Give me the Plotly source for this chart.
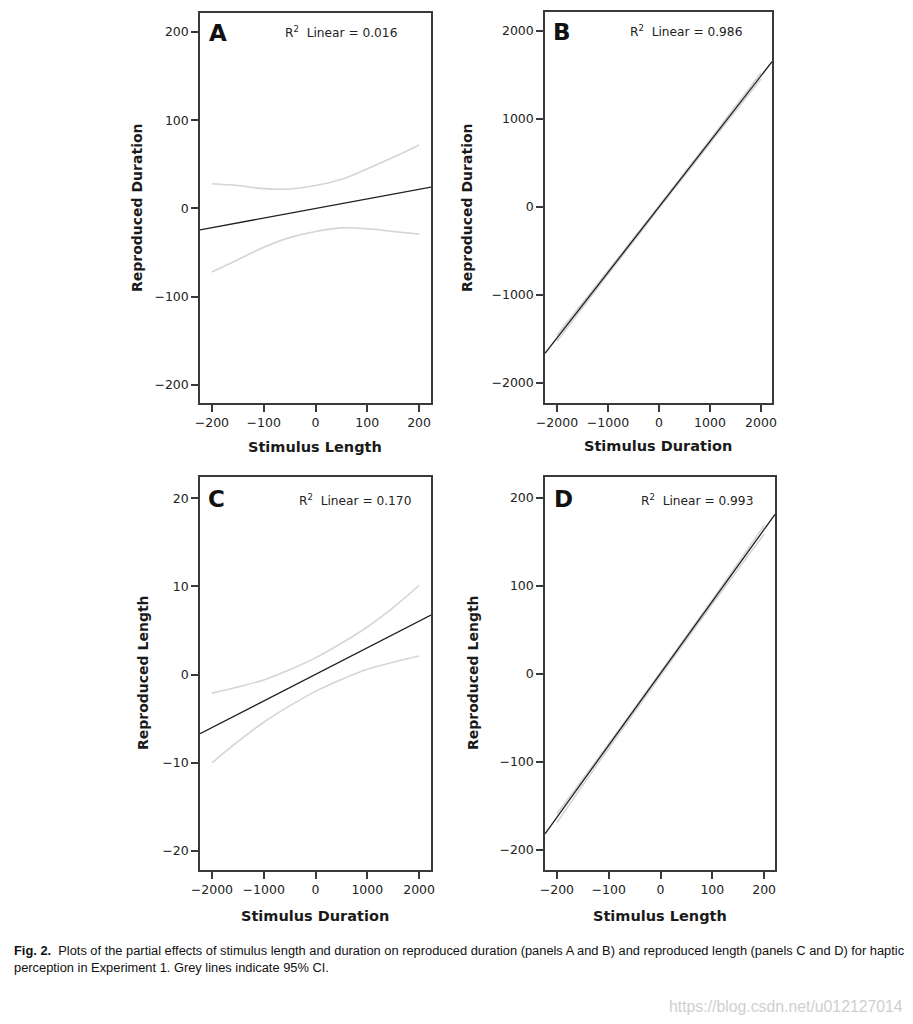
import plotly.graph_objects as go

# ---------------- data ----------------
# Panel A: Reproduced Duration vs Stimulus Length
fit_x_A = [-223, 223]
fit_y_A = [-24.2, 24.2]
ci_x_A = [-200, -150, -100, -50, 0, 50, 100, 150, 200]
ci_up_A = [28, 26, 22.5, 22, 26, 33, 45, 58, 72]
ci_lo_A = [-72, -58, -44, -33, -26, -22, -23, -26, -29]

# Panel B: Reproduced Duration vs Stimulus Duration
fit_x_B = [-2235, 2215]
fit_y_B = [-1663, 1651]
ci_x_B = [-2000, -1000, 0, 1000, 2000]
ci_up_B = [-1455, -725, 15, 765, 1525]
ci_lo_B = [-1525, -765, -15, 725, 1455]

# Panel C: Reproduced Length vs Stimulus Duration
fit_x_C = [-2230, 2230]
fit_y_C = [-6.7, 6.76]
ci_x_C = [-2000, -1500, -1000, -500, 0, 500, 1000, 1500, 2000]
ci_up_C = [-2.1, -1.4, -0.6, 0.55, 1.9, 3.55, 5.4, 7.6, 10.1]
ci_lo_C = [-10.0, -7.6, -5.4, -3.55, -1.9, -0.55, 0.6, 1.4, 2.1]

# Panel D: Reproduced Length vs Stimulus Length
fit_x_D = [-223, 221]
fit_y_D = [-181.8, 181.5]
ci_x_D = [-200, -100, 0, 100, 200]
ci_up_D = [-159, -79.5, 2, 84.5, 169]
ci_lo_D = [-169, -84.5, -2, 79.5, 159]

panel_letters = ["A", "B", "C", "D"]
r2_labels = ["0.016", "0.986", "0.170", "0.993"]
x_titles = ["Stimulus Length", "Stimulus Duration", "Stimulus Duration", "Stimulus Length"]
y_titles = ["Reproduced Duration", "Reproduced Duration", "Reproduced Length", "Reproduced Length"]

ticks_small = [-200, -100, 0, 100, 200]
ticks_large = [-2000, -1000, 0, 1000, 2000]
ticks_tiny = [-20, -10, 0, 10, 20]

caption_line1 = ("<b>Fig. 2.</b>  Plots of the partial effects of stimulus length and duration on reproduced "
                 "duration (panels A and B) and reproduced length (panels C and D) for haptic")
caption_line2 = "perception in Experiment 1. Grey lines indicate 95% CI."
watermark = "https://blog.csdn.net/u012127014"

# ---------------- layout geometry ----------------
W, H = 913, 1024


def px_x(v):
    return v / W


def px_y(v):
    return 1 - v / H


panels = [
    dict(fx=fit_x_A, fy=fit_y_A, cx=ci_x_A, cu=ci_up_A, cl=ci_lo_A,
         dom_x=(200, 431), dom_y=(13, 403), xr=[-223, 223], yr=[-220.4, 221.5],
         xt=ticks_small, yt=ticks_small,
         letter_x=207, letter_y=33, r2_x=341, r2_y=32,
         xt_x=315, xt_y=447, yt_x=137, yt_y=208),
    dict(fx=fit_x_B, fy=fit_y_B, cx=ci_x_B, cu=ci_up_B, cl=ci_lo_B,
         dom_x=(545, 772), dom_y=(12, 403), xr=[-2235, 2215], yr=[-2227, 2216],
         xt=ticks_large, yt=ticks_large,
         letter_x=551, letter_y=32, r2_x=686, r2_y=31,
         xt_x=658, xt_y=446, yt_x=467, yt_y=208),
    dict(fx=fit_x_C, fy=fit_y_C, cx=ci_x_C, cu=ci_up_C, cl=ci_lo_C,
         dom_x=(200, 431), dom_y=(477, 870), xr=[-2230, 2230], yr=[-22.15, 22.4],
         xt=ticks_large, yt=ticks_tiny,
         letter_x=206, letter_y=499, r2_x=355, r2_y=500,
         xt_x=315, xt_y=916, yt_x=143, yt_y=673),
    dict(fx=fit_x_D, fy=fit_y_D, cx=ci_x_D, cu=ci_up_D, cl=ci_lo_D,
         dom_x=(545, 775), dom_y=(477, 870), xr=[-223, 221], yr=[-223, 224],
         xt=ticks_small, yt=ticks_small,
         letter_x=552, letter_y=499, r2_x=697, r2_y=500,
         xt_x=660, xt_y=916, yt_x=473, yt_y=673),
]

AX_COLOR = "#3a3a3a"
FONT = "DejaVu Sans"
fig = go.Figure()
annotations = []
layout = dict(
    width=W, height=H,
    margin=dict(l=0, r=0, t=0, b=0, autoexpand=False),
    paper_bgcolor="white", plot_bgcolor="white",
    showlegend=False,
    font=dict(family=FONT, color="#222"),
)

for i, p in enumerate(panels):
    n = "" if i == 0 else str(i + 1)
    xa, ya = "x" + n, "y" + n
    for yy in (p["cu"], p["cl"]):
        fig.add_trace(go.Scatter(x=p["cx"], y=yy, mode="lines", xaxis=xa, yaxis=ya,
                                 line=dict(color="#d5d5d5", width=1.6, shape="spline"),
                                 hoverinfo="skip"))
    fig.add_trace(go.Scatter(x=p["fx"], y=p["fy"], mode="lines", xaxis=xa, yaxis=ya,
                             line=dict(color="#1e1e1e", width=1.3), hoverinfo="skip"))
    common = dict(showgrid=False, zeroline=False, showline=True, mirror=True,
                  linecolor=AX_COLOR, linewidth=1.5, ticks="outside", ticklen=7,
                  tickwidth=1.5, tickcolor=AX_COLOR, automargin=False,
                  tickfont=dict(family=FONT, size=12.5, color="#222"), fixedrange=True)
    layout["xaxis" + n] = dict(common, domain=[px_x(p["dom_x"][0]), px_x(p["dom_x"][1])],
                               range=p["xr"], tickvals=p["xt"], anchor=ya)
    layout["yaxis" + n] = dict(common, domain=[px_y(p["dom_y"][1]), px_y(p["dom_y"][0])],
                               range=p["yr"], tickvals=p["yt"], anchor=xa)
    annotations.append(dict(text="<b>%s</b>" % panel_letters[i], xref="paper", yref="paper",
                            x=px_x(p["letter_x"]), y=px_y(p["letter_y"]), xanchor="left",
                            yanchor="middle", showarrow=False,
                            font=dict(family=FONT, size=23, color="#111")))
    annotations.append(dict(text="R<sup>2</sup>&nbsp; Linear = %s" % r2_labels[i], xref="paper",
                            yref="paper", x=px_x(p["r2_x"]), y=px_y(p["r2_y"]),
                            xanchor="center", yanchor="middle", showarrow=False,
                            font=dict(family=FONT, size=12.2, color="#222")))
    annotations.append(dict(text="<b>%s</b>" % x_titles[i], xref="paper", yref="paper",
                            x=px_x(p["xt_x"]), y=px_y(p["xt_y"]), xanchor="center",
                            yanchor="middle", showarrow=False,
                            font=dict(family=FONT, size=14.5, color="#1a1a1a")))
    annotations.append(dict(text="<b>%s</b>" % y_titles[i], xref="paper", yref="paper",
                            x=px_x(p["yt_x"]), y=px_y(p["yt_y"]), xanchor="center",
                            yanchor="middle", showarrow=False, textangle=-90,
                            font=dict(family=FONT, size=14.0, color="#1a1a1a")))

CAP_FONT = "Liberation Sans Narrow, Liberation Sans, sans-serif"
annotations.append(dict(text=caption_line1, xref="paper", yref="paper", x=px_x(12), y=px_y(950),
                        xanchor="left", yanchor="middle", showarrow=False,
                        font=dict(family=CAP_FONT, size=12.85, color="#111")))
annotations.append(dict(text=caption_line2, xref="paper", yref="paper", x=px_x(12), y=px_y(967),
                        xanchor="left", yanchor="middle", showarrow=False,
                        font=dict(family=CAP_FONT, size=12.85, color="#111")))
annotations.append(dict(text=watermark, xref="paper", yref="paper", x=px_x(905), y=px_y(1006),
                        xanchor="right", yanchor="middle", showarrow=False,
                        font=dict(family="Liberation Sans, Arial, sans-serif", size=15.8,
                                  color="#cfcfcf")))

layout["annotations"] = annotations
fig.update_layout(**layout)
fig.write_html("out.html", config={"displayModeBar": False},
               post_script="document.body.style.margin='0';document.body.style.overflow='hidden';")
